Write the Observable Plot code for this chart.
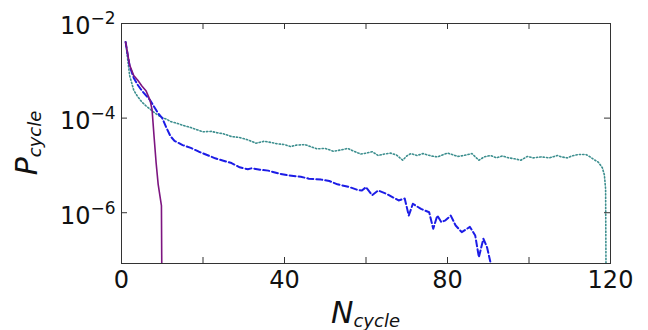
<!DOCTYPE html>
<html><head><meta charset="utf-8">
<script src="https://cdn.jsdelivr.net/npm/d3@7"></script>
<script src="https://cdn.jsdelivr.net/npm/@observablehq/plot@0.6"></script>
<style>html,body{margin:0;padding:0;background:#fff;} svg{display:block}</style>
</head><body><div id="chart"></div>
<script>
// ---- data (log10 of P_cycle) ----
const xTicks = [0, 20, 40, 60, 80, 100, 120];
const xTickLabels = [0, 40, 80, 120];
const yTicks = [1e-2, 1e-4, 1e-6];

const purpleN    = [1, 2, 3, 4, 5, 6, 7, 7.5, 8, 8.5, 9, 9.8, 10];
const purpleLogP = [-2.39, -2.88, -3.1, -3.2, -3.32, -3.42, -3.62, -3.82, -4.4, -4.95, -5.4, -5.85, -9];

const blueN    = [1, 2, 3, 4, 5, 6, 7, 8, 9, 10, 11, 12, 13, 15, 17, 19, 21, 23, 25, 27, 29, 31, 32, 34, 36, 39, 41, 44, 46, 49, 51, 53, 56, 58, 59, 60, 61.5, 63, 65, 68, 69.5, 70.5, 71.5, 73.5, 75.5, 76.5, 77.5, 78.5, 79.5, 80.8, 82, 83.5, 85.5, 86.8, 87.7, 88.8, 89.7, 91.2];
const blueLogP = [-2.39, -2.9, -3.15, -3.3, -3.42, -3.52, -3.62, -3.76, -3.9, -4.0, -4.2, -4.38, -4.48, -4.57, -4.63, -4.71, -4.78, -4.85, -4.9, -4.95, -5.04, -5.08, -5.06, -5.09, -5.11, -5.18, -5.21, -5.24, -5.28, -5.3, -5.33, -5.4, -5.46, -5.52, -5.53, -5.46, -5.63, -5.53, -5.6, -5.74, -5.7, -6.06, -5.81, -5.92, -5.99, -6.34, -6.06, -6.2, -6.16, -6.06, -6.27, -6.41, -6.3, -6.48, -6.94, -6.55, -6.73, -7.3];

const tealN    = [1, 2, 3, 4, 5, 6, 7, 8, 9, 10, 11, 12, 14, 15, 17, 18, 20, 22, 23.5, 25, 27, 29, 31, 33, 35, 37, 38, 40, 41.5, 43, 45, 47, 48, 50, 52, 54, 55.5, 57, 58.7, 60, 61.5, 63, 64.5, 66, 67.5, 69, 70, 71, 72.5, 74, 76, 77.5, 79, 80, 81.5, 82.5, 84, 86, 87.7, 89, 90.6, 92, 93.5, 95, 96.5, 98, 99.6, 101, 103, 105, 107, 108, 109.4, 110.5, 112, 114, 115, 116, 117, 118, 118.5, 118.8, 119];
const tealLogP = [-2.39, -3.1, -3.41, -3.55, -3.66, -3.74, -3.81, -3.88, -3.94, -3.99, -4.02, -4.07, -4.12, -4.15, -4.2, -4.23, -4.29, -4.28, -4.31, -4.33, -4.39, -4.41, -4.46, -4.53, -4.49, -4.52, -4.54, -4.56, -4.6, -4.57, -4.56, -4.62, -4.65, -4.64, -4.7, -4.67, -4.64, -4.7, -4.76, -4.74, -4.71, -4.79, -4.76, -4.74, -4.78, -4.89, -4.8, -4.75, -4.79, -4.75, -4.8, -4.82, -4.77, -4.74, -4.78, -4.81, -4.79, -4.75, -4.89, -4.82, -4.79, -4.84, -4.8, -4.84, -4.86, -4.89, -4.81, -4.84, -4.82, -4.84, -4.79, -4.82, -4.84, -4.8, -4.77, -4.77, -4.82, -4.88, -4.93, -5.05, -5.2, -5.5, -9];

// ---- layout ----
const W = 648, H = 330;
const mL = 121, mR = 38, mT = 23, mB = 67;
const innerW = W - mL - mR, innerH = H - mT - mB;
const rows = (ns, ls) => ns.map((n, i) => ({N: n, P: Math.pow(10, ls[i])}));

const plot = Plot.plot({
  width: W, height: H,
  marginLeft: mL, marginRight: mR, marginTop: mT, marginBottom: mB,
  style: {fontFamily: "DejaVu Sans", background: "white", color: "#111", overflow: "visible"},
  x: {domain: [0, 120]},
  y: {type: "log", domain: [8.45e-8, 1e-2]},
  marks: [
    Plot.lineY(rows(tealN, tealLogP), {x: "N", y: "P", stroke: "#3d8f8f", strokeWidth: 1.6, strokeDasharray: "1.3,2.1", clip: true}),
    Plot.lineY(rows(blueN, blueLogP), {x: "N", y: "P", stroke: "#1c1ce6", strokeWidth: 2, strokeDasharray: "6,3", clip: true}),
    Plot.lineY(rows(purpleN, purpleLogP), {x: "N", y: "P", stroke: "#7d1580", strokeWidth: 1.6, clip: true}),
    Plot.frame({stroke: "#333", strokeWidth: 1}),
    Plot.tickX(xTicks, {x: d => d, insetTop: innerH - 6, stroke: "#333"}),
    Plot.tickX(xTicks, {x: d => d, insetBottom: innerH - 6, stroke: "#333"}),
    Plot.tickY(yTicks, {y: d => d, insetRight: innerW - 6, stroke: "#333"}),
    Plot.tickY(yTicks, {y: d => d, insetLeft: innerW - 6, stroke: "#333"}),
    Plot.axisX({ticks: xTickLabels, tickSize: 0, tickPadding: 7, fontSize: 24, label: null, tickFormat: d => String(d)}),
    Plot.axisY({ticks: yTicks, tickSize: 0, tickPadding: 6, fontSize: 24, label: null, dy: 3.3,
      tickFormat: d => "10|" + Math.round(Math.log10(d))})
  ]
});

// superscript exponents on y tick labels
d3.select(plot).selectAll('g[aria-label="y-axis tick label"] text').each(function() {
  const t = d3.select(this);
  const parts = t.text().split("|");
  t.text(null);
  t.append("tspan").text(parts[0]);
  t.append("tspan").attr("font-size", 17).attr("dy", -10).text(parts[1].replace("-", "\u2212"));
});

const svg = d3.select(plot);
// x axis label N_cycle
const xl = svg.append("text")
  .attr("x", mL + innerW / 2).attr("y", 323)
  .attr("text-anchor", "middle")
  .attr("font-family", "DejaVu Sans").attr("font-style", "italic")
  .attr("font-size", 30).attr("fill", "#111");
xl.append("tspan").text("N");
xl.append("tspan").attr("font-size", 18).attr("dy", 4).text("cycle");
// y axis label P_cycle
const yl = svg.append("text")
  .attr("transform", `translate(37,${mT + innerH / 2}) rotate(-90)`)
  .attr("text-anchor", "middle")
  .attr("font-family", "DejaVu Sans").attr("font-style", "italic")
  .attr("font-size", 30).attr("fill", "#111");
yl.append("tspan").text("P");
yl.append("tspan").attr("font-size", 18).attr("dy", 4).text("cycle");

document.getElementById("chart").appendChild(plot);
</script>
</body></html>
